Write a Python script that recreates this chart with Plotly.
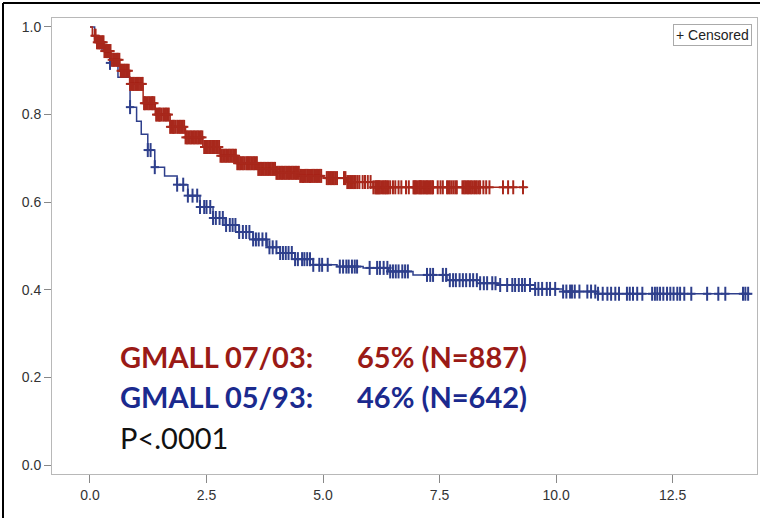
import numpy as np
import plotly.graph_objects as go

# ---- data ----
red_t = [0, 0.05, 0.15, 0.3, 0.45, 0.64, 0.85, 1.14, 1.4, 1.72, 2.05, 2.42, 2.8, 3.15, 3.6, 4.0, 4.5, 5.0, 5.5, 6.07, 9.4]
red_s = [1.0, 0.98, 0.965, 0.945, 0.925, 0.90, 0.87, 0.826, 0.80, 0.772, 0.748, 0.726, 0.706, 0.689, 0.676, 0.667, 0.66, 0.655, 0.646, 0.634, 0.634]

blue_t = [0, 0.1, 0.25, 0.43, 0.6, 0.86, 1.0, 1.1, 1.24, 1.39, 1.6, 1.87, 2.1, 2.36, 2.64, 2.9, 3.2, 3.5, 3.8, 4.08, 4.4, 4.79, 5.3, 5.86, 6.4, 6.93, 7.66, 8.37, 8.73, 9.55, 10.15, 10.9, 14.2]
blue_s = [1.0, 0.975, 0.95, 0.918, 0.885, 0.817, 0.785, 0.755, 0.719, 0.68, 0.66, 0.64, 0.615, 0.589, 0.564, 0.548, 0.532, 0.515, 0.497, 0.484, 0.47, 0.457, 0.453, 0.45, 0.442, 0.434, 0.422, 0.415, 0.411, 0.402, 0.396, 0.391, 0.391]

red_cens = [0.1, 0.12, 0.15, 0.18, 0.2, 0.22, 0.25, 0.27, 0.29, 0.31, 0.34, 0.36, 0.38, 0.4, 0.42, 0.44, 0.47, 0.5, 0.52, 0.55,
            0.58, 0.6, 0.63, 0.66, 0.68, 0.7, 0.73, 0.75, 0.78, 0.8, 0.83, 0.86, 0.89, 0.92, 0.94, 0.97, 1.0, 1.02, 1.05, 1.08,
            1.11, 1.13, 1.16, 1.18, 1.21, 1.24, 1.27, 1.3, 1.33, 1.35, 1.38, 1.42, 1.45, 1.48, 1.5, 1.53, 1.57, 1.6, 1.63, 1.66,
            1.69, 1.72, 1.75, 1.78, 1.8, 1.83, 1.87, 1.9, 1.93, 1.96, 1.99, 2.02, 2.05, 2.08, 2.11, 2.14, 2.17, 2.2, 2.23, 2.26,
            2.29, 2.32, 2.35, 2.38, 2.41, 2.45, 2.48, 2.5, 2.53, 2.56, 2.59, 2.62, 2.65, 2.68, 2.71, 2.74, 2.77, 2.8, 2.83, 2.86,
            2.89, 2.92, 2.95, 2.98, 3.01, 3.04, 3.07, 3.1, 3.13, 3.16, 3.19, 3.22, 3.25, 3.28, 3.31, 3.35, 3.38, 3.4, 3.43, 3.46,
            3.49, 3.52, 3.55, 3.58, 3.61, 3.64, 3.67, 3.7, 3.73, 3.76, 3.79, 3.82, 3.85, 3.88, 3.91, 3.94, 3.97, 4.0, 4.03, 4.06,
            4.09, 4.12, 4.15, 4.18, 4.21, 4.24, 4.27, 4.3, 4.33, 4.36, 4.39, 4.42, 4.45, 4.48, 4.51, 4.54, 4.57, 4.6, 4.63, 4.66,
            4.69, 4.72, 4.75, 4.78, 4.81, 4.84, 4.87, 4.9, 4.93, 4.96, 5.08, 5.11, 5.14, 5.17, 5.2, 5.23, 5.26, 5.3, 5.45, 5.48,
            5.52, 5.55, 5.58, 5.61, 5.64, 5.67, 5.7, 5.74, 5.78, 5.85, 5.9, 5.96, 6.02, 6.08, 6.12, 6.14, 6.16, 6.18, 6.2, 6.22,
            6.25, 6.28, 6.3, 6.33, 6.35, 6.38, 6.4, 6.44, 6.5, 6.55, 6.62, 6.68, 6.78, 6.84, 6.94, 6.96, 6.98, 7.0, 7.03, 7.06,
            7.08, 7.1, 7.12, 7.15, 7.17, 7.2, 7.22, 7.24, 7.26, 7.29, 7.31, 7.34, 7.36, 7.46, 7.52, 7.57, 7.66, 7.69, 7.72, 7.76,
            7.8, 7.84, 7.87, 7.99, 8.02, 8.05, 8.08, 8.11, 8.14, 8.17, 8.2, 8.24, 8.27, 8.3, 8.34, 8.37, 8.44, 8.5, 8.57, 8.86,
            8.97, 9.08, 9.29]

blue_cens = [0.43, 0.86, 1.24, 1.3, 1.39, 1.87, 2.0, 2.1, 2.2, 2.3, 2.36, 2.45, 2.5, 2.58, 2.64, 2.7, 2.78, 2.85, 2.92, 3.0,
             3.06, 3.12, 3.2, 3.28, 3.35, 3.42, 3.5, 3.56, 3.62, 3.7, 3.78, 3.85, 3.92, 4.0, 4.08, 4.14, 4.2, 4.26, 4.33, 4.4,
             4.46, 4.55, 4.6, 4.66, 4.72, 4.79, 4.92, 4.98, 5.1, 5.36, 5.43, 5.5, 5.55, 5.62, 5.68, 5.73, 6.0, 6.16, 6.22, 6.3,
             6.38, 6.44, 6.5, 6.56, 6.62, 6.7, 6.76, 6.82, 7.23, 7.3, 7.36, 7.57, 7.64, 7.72, 7.79, 7.85, 7.93, 8.0, 8.07, 8.15,
             8.22, 8.3, 8.37, 8.45, 8.52, 8.63, 8.7, 8.8, 8.95, 9.06, 9.12, 9.2, 9.27, 9.33, 9.44, 9.55, 9.62, 9.7, 9.8, 9.87,
             9.98, 10.15, 10.22, 10.3, 10.34, 10.4, 10.5, 10.67, 10.75, 10.84, 10.9, 11.0, 11.1, 11.18, 11.27, 11.35, 11.52,
             11.58, 11.65, 11.74, 11.85, 12.06, 12.12, 12.17, 12.23, 12.3, 12.38, 12.45, 12.52, 12.6, 12.66, 12.75, 12.9,
             13.24, 13.48, 13.63, 14.01, 14.06, 14.12]

x_ticks = [0.0, 2.5, 5.0, 7.5, 10.0, 12.5]
y_ticks = [0.0, 0.2, 0.4, 0.6, 0.8, 1.0]

RED = "#A8281C"
BLUE = "#2E3F8C"
RED_TXT = "#9A1A16"
BLUE_TXT = "#1B2A8E"


def step_at(ts, ss, x):
    idx = np.searchsorted(np.array(ts), np.array(x), side="right") - 1
    return np.array(ss)[idx]


fig = go.Figure()
for t, s, c, col in [(blue_t, blue_s, blue_cens, BLUE), (red_t, red_s, red_cens, RED)]:
    fig.add_trace(go.Scatter(x=t, y=s, mode="lines", line=dict(color=col, width=1.5, shape="hv"),
                             showlegend=False, hoverinfo="skip"))
    cy = step_at(t, s, c)
    fig.add_trace(go.Scatter(x=c, y=cy, mode="markers",
                             marker=dict(symbol="line-ns", size=10, line=dict(color=col, width=2)),
                             showlegend=False, hoverinfo="skip"))
    fig.add_trace(go.Scatter(x=c, y=cy, mode="markers",
                             marker=dict(symbol="line-ew", size=6, line=dict(color=col, width=2)),
                             showlegend=False, hoverinfo="skip"))

tickfont = dict(family="Liberation Sans", size=14, color="#333")
fig.update_xaxes(range=[-0.815, 14.31], tickvals=x_ticks, ticktext=[f"{v:.1f}" for v in x_ticks],
                 showgrid=False, zeroline=False, showline=True, mirror=True, linecolor="#b8b8b8", linewidth=1,
                 ticks="outside", ticklen=8, tickcolor="#888", tickfont=tickfont)
fig.update_yaxes(range=[-0.0205, 1.0205], tickvals=y_ticks, ticktext=[f"{v:.1f}" for v in y_ticks],
                 showgrid=False, zeroline=False, showline=True, mirror=True, linecolor="#b8b8b8", linewidth=1,
                 ticks="outside", ticklen=7, tickcolor="#888", tickfont=tickfont)

ann = []
F = "Lato"
ann.append(dict(x=0.0936, y=0.2566, text="<b>GMALL 07/03:</b>", font=dict(family=F, size=29, color=RED_TXT)))
ann.append(dict(x=0.4298, y=0.2566, text="<b>65% (N=887)</b>", font=dict(family=F, size=29, color=RED_TXT)))
ann.append(dict(x=0.0936, y=0.1689, text="<b>GMALL 05/93:</b>", font=dict(family=F, size=29, color=BLUE_TXT)))
ann.append(dict(x=0.4298, y=0.1689, text="<b>46% (N=642)</b>", font=dict(family=F, size=29, color=BLUE_TXT)))
ann.append(dict(x=0.0936, y=0.0811, text="P<.0001", font=dict(family=F, size=29, color="#111")))
for a in ann:
    a.update(xref="paper", yref="paper", xanchor="left", yanchor="middle", showarrow=False)
fig.update_layout(annotations=ann)
fig.add_annotation(xref="paper", yref="paper", x=0.993, y=0.987, xanchor="right", yanchor="top",
                   text="+ Censored", showarrow=False, bordercolor="#aaa", borderwidth=1, borderpad=2,
                   bgcolor="white", font=dict(family="Liberation Sans", size=14, color="#222"))

# outer black frame of the slide
fig.add_shape(type="line", xref="paper", yref="paper", x0=-0.0695, x1=-0.0695, y0=-0.12, y1=1.033,
              line=dict(color="black", width=2))
fig.add_shape(type="line", xref="paper", yref="paper", x0=-0.0695, x1=1.01, y0=1.033, y1=1.033,
              line=dict(color="black", width=2))

fig.update_layout(width=760, height=518, margin=dict(l=52, r=3, t=18, b=44),
                  paper_bgcolor="white", plot_bgcolor="white")
fig.write_html("out.html")
